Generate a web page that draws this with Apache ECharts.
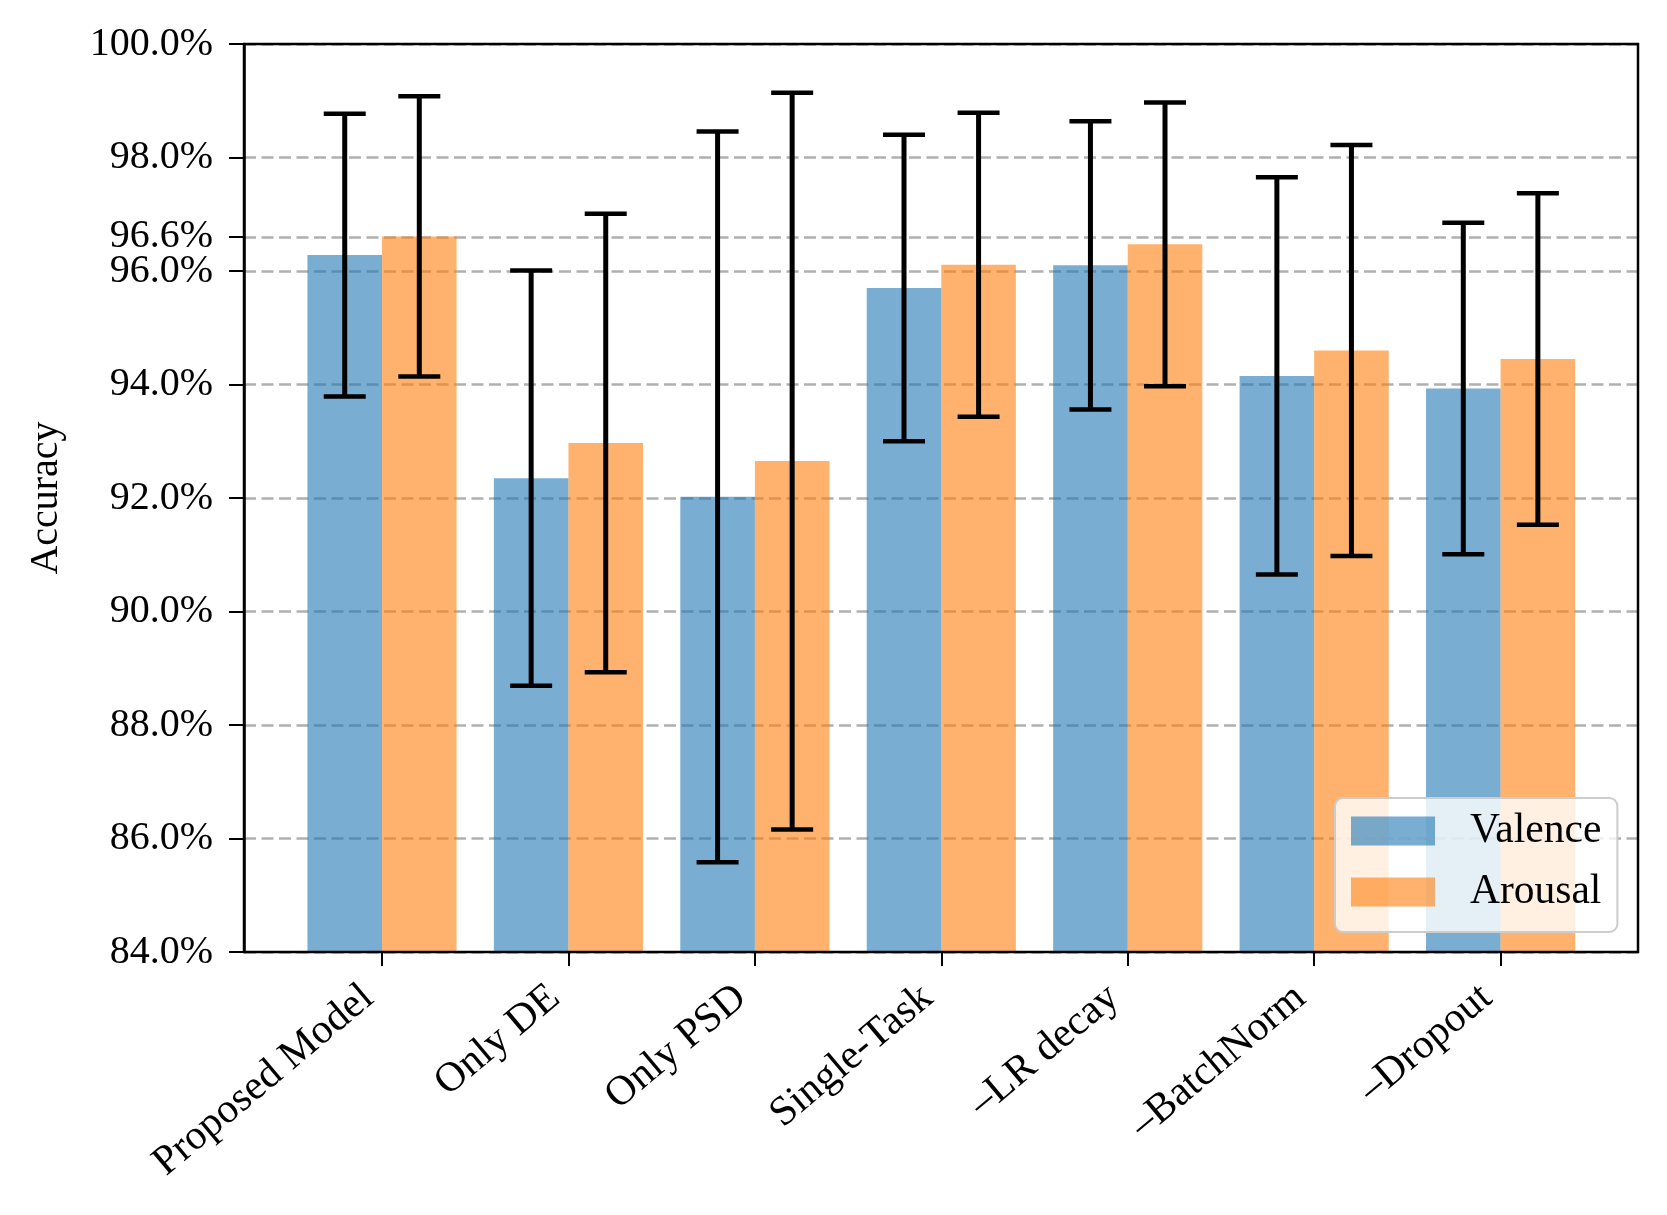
<!DOCTYPE html>
<html>
<head>
<meta charset="utf-8">
<script src="https://cdn.jsdelivr.net/npm/echarts@6/dist/echarts.min.js"></script>
<style>
  html, body { margin: 0; padding: 0; background: #fff; }
  #chart { width: 1667px; height: 1215px; }
</style>
</head>
<body>
<div id="chart"></div>
<script>
const categories = ['Proposed Model', 'Only DE', 'Only PSD', 'Single-Task', '\u2013LR decay', '\u2013BatchNorm', '\u2013Dropout'];
const valence = [96.28, 92.35, 92.02, 95.70, 96.10, 94.15, 93.93];
const arousal = [96.61, 92.97, 92.65, 96.11, 96.47, 94.60, 94.45];
const valenceErr = [2.49, 3.66, 6.44, 2.70, 2.54, 3.50, 2.92];
const arousalErr = [2.47, 4.04, 6.49, 2.68, 2.50, 3.62, 2.92];
const yTicks = [84, 86, 88, 90, 92, 94, 96, 96.6, 98, 100];

const FONT = 'Liberation Serif';
const errData = [];
categories.forEach(function (c, i) {
  errData.push([i, valence[i], valenceErr[i], 0]);
  errData.push([i, arousal[i], arousalErr[i], 1]);
});

const chart = echarts.init(document.getElementById('chart'), null, { renderer: 'canvas' });
const option = {
  backgroundColor: '#fff',
  animation: false,
  textStyle: { fontFamily: FONT },
  grid: [
    { left: 244, right: 29, top: 44, bottom: 263, show: true, z: 10, borderColor: '#000', borderWidth: 2.5, backgroundColor: 'transparent', containLabel: false },
    { left: 288.8, right: 73.2, top: 44, bottom: 263, containLabel: false }
  ],
  xAxis: [
    { type: 'value', gridIndex: 0, min: 0, max: 1, show: false },
    {
      type: 'category', gridIndex: 1, data: categories,
      axisLine: { show: false },
      axisTick: { show: true, alignWithLabel: true, length: 14, lineStyle: { color: '#000', width: 2 } },
      axisLabel: { rotate: 40, margin: 29, padding: [0, 18, 0, 0], fontFamily: FONT, fontSize: 41.5, color: '#000', interval: 0 },
      splitLine: { show: false }
    }
  ],
  yAxis: [
    {
      type: 'value', gridIndex: 0, min: 84, max: 100,
      name: 'Accuracy', nameLocation: 'middle', nameGap: 178,
      nameTextStyle: { fontFamily: FONT, fontSize: 40, color: '#000' },
      axisLine: { show: true, lineStyle: { color: '#000', width: 2.5 } },
      axisTick: { show: true, length: 15, lineStyle: { color: '#000', width: 2 }, customValues: yTicks },
      axisLabel: { margin: 31, fontFamily: FONT, fontSize: 40, color: '#000', customValues: yTicks,
        formatter: function (v) { return v.toFixed(1) + '%'; } },
      splitLine: { show: true, lineStyle: { color: '#b0b0b0', width: 2.5, type: [12, 5.5] } }
    },
    { type: 'value', gridIndex: 1, min: 84, max: 100, show: false, splitLine: { show: false } }
  ],
  legend: {
    orient: 'vertical', left: 1335, top: 798,
    data: ['Valence', 'Arousal'],
    icon: 'rect', itemWidth: 84, itemHeight: 29, itemGap: 19,
    padding: [12, 16, 19, 16],
    backgroundColor: 'rgba(255,255,255,0.8)', borderColor: '#cccccc', borderWidth: 2, borderRadius: 8,
    textStyle: { fontFamily: FONT, fontSize: 41.5, color: '#000', lineHeight: 40, padding: [0, 0, 0, 30] }
  },
  series: [
    { name: 'Valence', type: 'bar', xAxisIndex: 1, yAxisIndex: 1, data: valence, barWidth: '40%', barGap: '0%',
      itemStyle: { color: 'rgba(31,119,180,0.6)' }, z: 2 },
    { name: 'Arousal', type: 'bar', xAxisIndex: 1, yAxisIndex: 1, data: arousal, barWidth: '40%', barGap: '0%',
      itemStyle: { color: 'rgba(255,127,14,0.6)' }, z: 2 },
    {
      type: 'custom', xAxisIndex: 1, yAxisIndex: 1, data: errData, z: 3, silent: true,
      renderItem: function (params, api) {
        const xi = api.value(0), c = api.value(1), e = api.value(2), s = api.value(3);
        const band = api.size([1, 0])[0];
        const off = (s === 0 ? -0.2 : 0.2) * band;
        const top = api.coord([xi, c + e]);
        const bot = api.coord([xi, c - e]);
        const x = top[0] + off;
        const hw = 21;
        const stem = { stroke: '#000', lineWidth: 5 };
        const cap = { stroke: '#000', lineWidth: 4.5 };
        return { type: 'group', children: [
          { type: 'line', shape: { x1: x, y1: top[1], x2: x, y2: bot[1] }, style: stem },
          { type: 'line', shape: { x1: x - hw, y1: top[1], x2: x + hw, y2: top[1] }, style: cap },
          { type: 'line', shape: { x1: x - hw, y1: bot[1], x2: x + hw, y2: bot[1] }, style: cap }
        ] };
      }
    }
  ]
};
chart.setOption(option);
</script>
</body>
</html>
